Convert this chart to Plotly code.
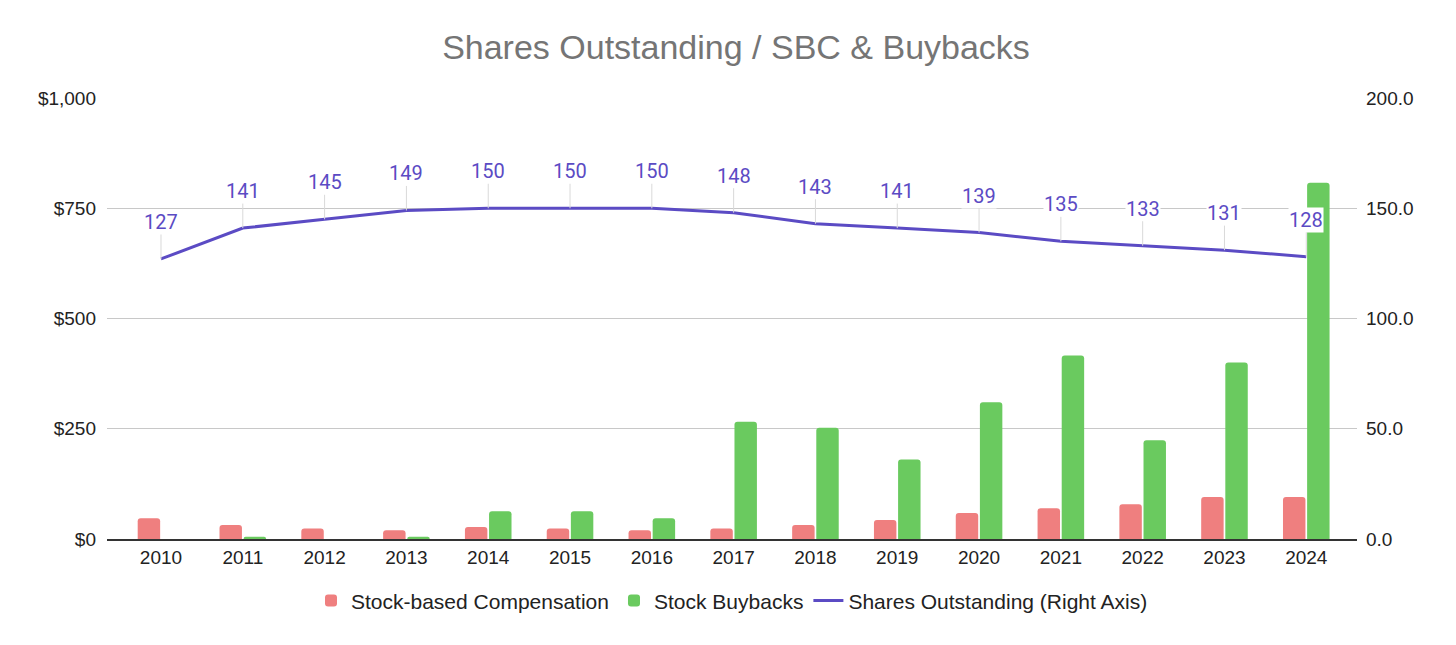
import plotly.graph_objects as go

years = ["2010", "2011", "2012", "2013", "2014", "2015", "2016", "2017",
         "2018", "2019", "2020", "2021", "2022", "2023", "2024"]
sbc = [47, 32, 24, 20, 27, 24, 20, 24, 32, 43, 59, 70, 79, 95, 95]
buybacks = [0, 5, 0, 5, 63, 63, 47, 266, 252, 180, 310, 416, 224, 400, 808]
shares = [127, 141, 145, 149, 150, 150, 150, 148, 143, 141, 139, 135, 133, 131, 128]

left_ticks = [0, 250, 500, 750, 1000]
left_labels = ["$0", "$250", "$500", "$750", "$1,000"]
right_ticks = [0, 50, 100, 150, 200]
right_labels = ["0.0", "50.0", "100.0", "150.0", "200.0"]

SBC_C = "#ef7f7f"
BUY_C = "#6aca5f"
LINE_C = "#5b4bc4"
FONT = "Liberation Sans, Arial"

fig = go.Figure()
fig.add_trace(go.Bar(x=years, y=sbc, name="Stock-based Compensation",
                     marker=dict(color=SBC_C, line=dict(width=0))))
fig.add_trace(go.Bar(x=years, y=buybacks, name="Stock Buybacks",
                     marker=dict(color=BUY_C, line=dict(width=0))))
fig.add_trace(go.Scatter(x=years, y=shares, name="Shares Outstanding (Right Axis)",
                         yaxis="y2", mode="lines",
                         line=dict(color=LINE_C, width=3)))

annotations = []
for i, v in enumerate(shares):
    annotations.append(dict(
        x=i, y=v, xref="x", yref="y2", text=str(v),
        showarrow=True, arrowhead=0, arrowwidth=1, arrowcolor="#d9d9d9",
        ax=0, ay=-37,
        font=dict(family="Roboto", size=20, color=LINE_C),
        bgcolor="white", borderpad=0,
    ))

fig.update_layout(
    width=1456, height=645,
    paper_bgcolor="white", plot_bgcolor="white",
    margin=dict(l=99, r=107, t=90, b=114),
    title=dict(text="Shares Outstanding / SBC & Buybacks",
               x=0.5, xanchor="center", y=1 - 39 / 645, yanchor="middle",
               yref="container",
               font=dict(family=FONT, size=34, color="#757575")),
    barmode="group", bargap=0.41, bargroupgap=0.07,
    barcornerradius=3,
    showlegend=True,
    legend=dict(orientation="h", x=0.5, xanchor="center", y=-0.14, yanchor="middle",
                font=dict(family=FONT, size=21, color="#222222"),
                itemwidth=30, traceorder="normal"),
    xaxis=dict(type="category", range=[-0.66, 14.62],
               showline=True, linecolor="#333333", linewidth=2,
               showgrid=False, ticks="",
               tickfont=dict(family=FONT, size=19, color="#222222")),
    yaxis=dict(range=[0, 1000], tickvals=left_ticks, ticktext=left_labels,
               showgrid=True, gridcolor="#c8c8c8", gridwidth=1,
               zeroline=False, showline=False, ticks="", ticklabelstandoff=10,
               tickfont=dict(family=FONT, size=19, color="#222222")),
    yaxis2=dict(range=[0, 200], tickvals=right_ticks, ticktext=right_labels,
                overlaying="y", side="right", showgrid=False, zeroline=False,
                showline=False, ticks="", ticklabelstandoff=8,
                tickfont=dict(family=FONT, size=19, color="#222222")),
    annotations=annotations,
    hovermode=False,
    font=dict(family=FONT),
)

fig.write_html("out.html")
